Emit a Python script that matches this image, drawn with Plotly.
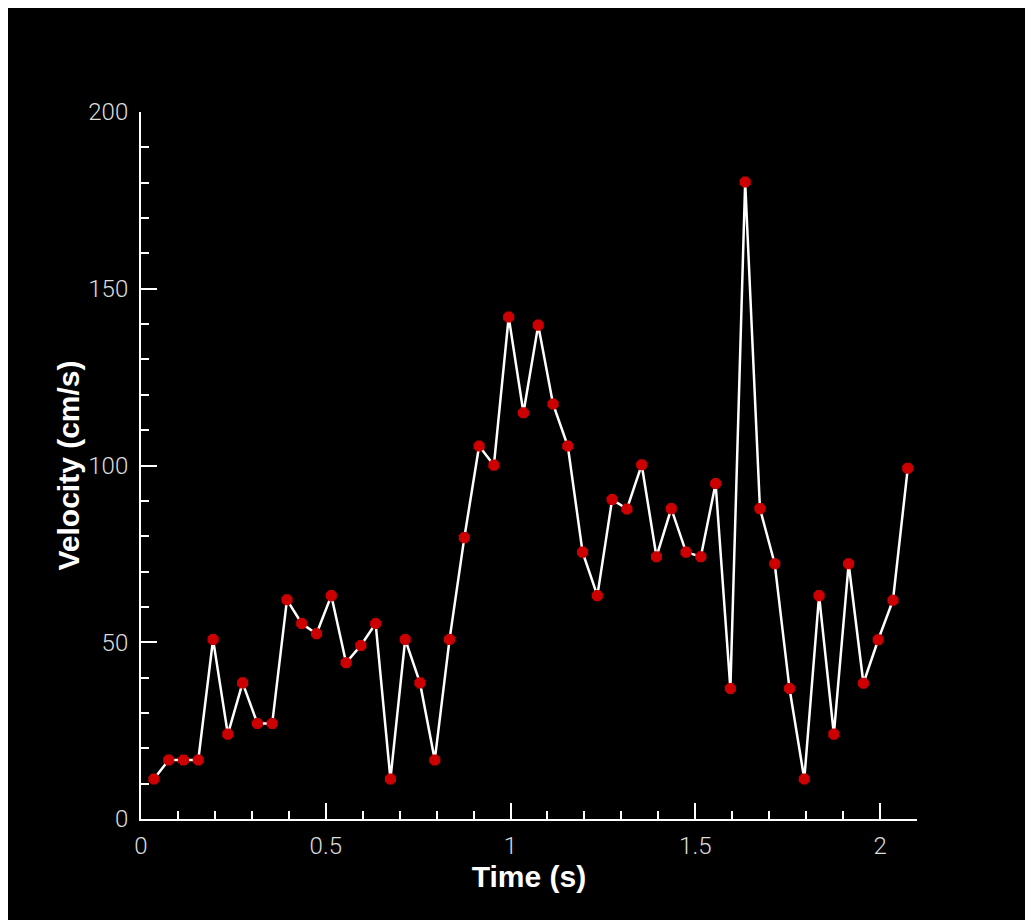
import plotly.graph_objects as go

time_s = [0.035, 0.075, 0.115, 0.155, 0.195, 0.235, 0.275, 0.315, 0.355, 0.395,
          0.435, 0.475, 0.515, 0.555, 0.595, 0.635, 0.675, 0.715, 0.755, 0.795,
          0.835, 0.875, 0.915, 0.955, 0.995, 1.035, 1.075, 1.115, 1.155, 1.195,
          1.235, 1.275, 1.315, 1.355, 1.395, 1.435, 1.475, 1.515, 1.555, 1.595,
          1.635, 1.675, 1.715, 1.755, 1.795, 1.835, 1.875, 1.915, 1.955, 1.995,
          2.035, 2.075]
velocity = [11.3, 16.7, 16.7, 16.7, 50.8, 24.0, 38.5, 27.0, 27.0, 62.0,
            55.3, 52.4, 63.2, 44.2, 49.1, 55.3, 11.3, 50.8, 38.5, 16.7,
            50.8, 79.6, 105.5, 100.1, 142.0, 114.9, 139.7, 117.4, 105.5, 75.5,
            63.2, 90.4, 87.7, 100.2, 74.2, 87.8, 75.5, 74.2, 94.9, 36.9,
            180.2, 87.8, 72.2, 36.9, 11.3, 63.2, 24.0, 72.2, 38.4, 50.7,
            61.9, 99.2]

x_ticks = [0, 0.5, 1, 1.5, 2]
x_tick_labels = ["0", "0.5", "1", "1.5", "2"]
y_ticks = [0, 50, 100, 150, 200]
y_tick_labels = ["0", "50", "100", "150", "200"]

fig = go.Figure()
fig.add_trace(go.Scatter(
    x=time_s, y=velocity, mode="lines+markers",
    line=dict(color="white", width=2.5),
    marker=dict(color="#cc0000", size=12, symbol="octagon", line=dict(width=0)),
    showlegend=False,
))

tick_font = dict(family="Roboto", size=24, color="#dcdcdc", weight=300)
title_font = dict(family="Liberation Sans, Arial", size=30, color="white", weight="bold")

fig.update_xaxes(
    range=[0, 2.1], showgrid=False, zeroline=False,
    showline=True, linecolor="white", linewidth=2,
    ticks="inside", ticklen=16, tickwidth=2, tickcolor="white",
    tickvals=x_ticks, ticktext=x_tick_labels, tickfont=tick_font,
    ticklabelstandoff=4,
    minor=dict(ticks="inside", ticklen=8, tickwidth=2, tickcolor="white", dtick=0.1, showgrid=False),
    title=dict(text="Time (s)", font=title_font, standoff=0),
)
fig.update_yaxes(
    range=[0, 200], showgrid=False, zeroline=False,
    showline=True, linecolor="white", linewidth=2,
    ticks="inside", ticklen=16, tickwidth=2, tickcolor="white",
    tickvals=y_ticks, ticktext=y_tick_labels, tickfont=tick_font,
    ticklabelstandoff=6,
    minor=dict(ticks="inside", ticklen=8, tickwidth=2, tickcolor="white", dtick=10, showgrid=False),
    title=dict(text="Velocity (cm/s)", font=title_font, standoff=0),
)

fig.update_layout(
    width=1025, height=912,
    paper_bgcolor="black", plot_bgcolor="black",
    margin=dict(l=133, r=116, t=104, b=101),
)

fig.write_html("out.html")
